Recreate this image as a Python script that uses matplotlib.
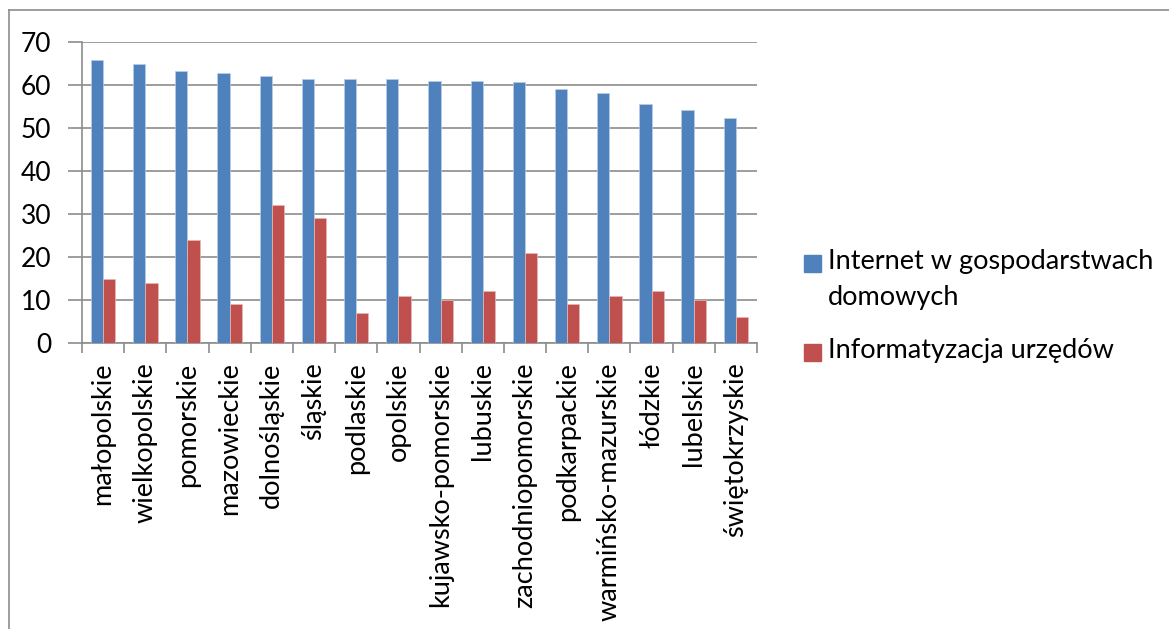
import matplotlib.pyplot as plt
from matplotlib.lines import Line2D
from matplotlib.patches import Rectangle
import numpy as np

plt.rcParams['font.family'] = ['Lato', 'DejaVu Sans']

regions = ['małopolskie', 'wielkopolskie', 'pomorskie', 'mazowieckie',
           'dolnośląskie', 'śląskie', 'podlaskie', 'opolskie',
           'kujawsko-pomorskie', 'lubuskie', 'zachodniopomorskie',
           'podkarpackie', 'warmińsko-mazurskie', 'łódzkie', 'lubelskie',
           'świętokrzyskie']
internet = [65.7, 64.8, 63.2, 62.9, 62.2, 61.5, 61.3, 61.3,
            61.0, 61.0, 60.7, 59.1, 58.1, 55.6, 54.3, 52.3]
urzedy = [15, 14, 24, 9, 32, 29, 7, 11, 10, 12, 21, 9, 11, 12, 10, 6]

labels = ['Internet w gospodarstwach\ndomowych', 'Informatyzacja urzędów']
colors = ['#4F81BD', '#C0504D']

W, H = 1169, 629
fig = plt.figure(figsize=(W / 100, H / 100), dpi=100)
ax = fig.add_axes([82 / W, 1 - 343 / H, 675 / W, 301 / H])

x = np.arange(len(regions))
w = 0.29
ax.bar(x - w / 2, internet, w, color=colors[0], zorder=3,
       edgecolor='#b9cde5', linewidth=0.5)
ax.bar(x + w / 2, urzedy, w, color=colors[1], zorder=3,
       edgecolor='#e6b9b8', linewidth=0.5)

ax.set_xlim(-0.5, len(regions) - 0.5)
ax.set_ylim(0, 70)
ax.set_yticks(range(0, 71, 10))
ax.yaxis.grid(True, color='#8c8c8c', linewidth=1.2, zorder=0)

ax.set_xticks(x)
ax.set_xticklabels(regions, rotation=90, fontsize=19.5)
ax.tick_params(axis='x', length=0, pad=14)
ax.set_xticks(np.arange(-0.5, len(regions)), minor=True)
ax.tick_params(axis='x', which='minor', length=7, color='#8c8c8c', width=1.2)
ax.tick_params(axis='y', labelsize=19, length=10, color='#8c8c8c',
               width=1.2, pad=12)

for s in ['top', 'right']:
    ax.spines[s].set_visible(False)
for s in ['left', 'bottom']:
    ax.spines[s].set_color('#8c8c8c')
    ax.spines[s].set_linewidth(1.2)

# legend drawn by hand: square aligned with the first text line
legend_rows = [263, 352]
for lab, col, yc in zip(labels, colors, legend_rows):
    fig.add_artist(Rectangle((804 / W, 1 - (yc + 8.5) / H), 17 / W, 17 / H,
                             color=col, transform=fig.transFigure))
    fig.text(828 / W, 1 - (yc - 14) / H, lab, fontsize=19.5, va='top',
             ha='left', linespacing=1.55)

# outer frame (left and top only visible)
fig.add_artist(Line2D([9 / W, 9 / W], [0, 1 - 10 / H],
                      color='#8c8c8c', linewidth=1.2))
fig.add_artist(Line2D([9 / W, 1], [1 - 10 / H, 1 - 10 / H],
                      color='#8c8c8c', linewidth=1.2))

fig.savefig('out.png', dpi=100)
